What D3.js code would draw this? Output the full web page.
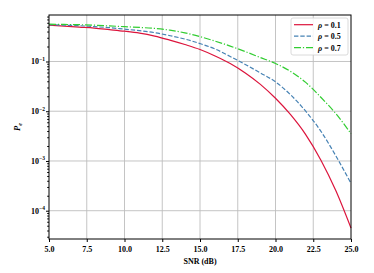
<!DOCTYPE html>
<html>
<head>
<meta charset="utf-8">
<script src="https://cdn.jsdelivr.net/npm/d3@7"></script>
<style>
  body { margin: 0; background: #fff; }
  svg { display: block; font-family: "Liberation Serif", "DejaVu Serif", serif; font-weight: bold; }
</style>
</head>
<body>
<svg width="374" height="273"></svg>
<script>
const snr = [5, 6, 7, 8, 9, 10, 11, 12, 13, 14, 15, 16, 17, 18, 19, 20, 21, 22, 23, 24, 25];

const pe01 = [0.537, 0.513, 0.49, 0.468, 0.437, 0.407, 0.372, 0.324, 0.269, 0.219, 0.174,
  0.129, 0.0912, 0.0589, 0.0347, 0.0182, 0.00851, 0.00339, 0.00105, 0.000251, 0.0000447];
const pe05 = [0.55, 0.537, 0.525, 0.501, 0.479, 0.447, 0.417, 0.38, 0.331, 0.282, 0.229,
  0.178, 0.126, 0.0871, 0.0589, 0.0389, 0.0214, 0.01, 0.00398, 0.00126, 0.000355];
const pe07 = [0.562, 0.556, 0.55, 0.537, 0.519, 0.501, 0.484, 0.462, 0.427, 0.376, 0.316,
  0.257, 0.204, 0.158, 0.12, 0.0912, 0.0631, 0.038, 0.0191, 0.00891, 0.00355];

const xTicks = [5, 7.5, 10, 12.5, 15, 17.5, 20, 22.5, 25];
const yTicks = [1e-1, 1e-2, 1e-3, 1e-4];
const yExps = ["\u22121", "\u22122", "\u22123", "\u22124"];

const series = [
  { label: "0.1", values: pe01, color: "#dc143c", dash: null },
  { label: "0.5", values: pe05, color: "#4682b4", dash: "4.4,1.9" },
  { label: "0.7", values: pe07, color: "#32cd32", dash: "7,1.9,1.2,1.9" }
];

const margin = { left: 49, right: 23, top: 15, bottom: 34 };
const width = 374, height = 273;
const svg = d3.select("svg");

const x = d3.scaleLinear().domain([5, 25]).range([margin.left, width - margin.right]);
const y = d3.scaleLog().domain([2.7e-5, 0.86]).range([height - margin.bottom, margin.top]);

// grid
const grid = svg.append("g").attr("stroke", "#bdbdbd").attr("stroke-width", 0.9);
grid.selectAll(".gx").data(xTicks.slice(1, -1)).join("line")
  .attr("x1", d => x(d)).attr("x2", d => x(d))
  .attr("y1", margin.top).attr("y2", height - margin.bottom);
grid.selectAll(".gy").data(yTicks).join("line")
  .attr("y1", d => y(d)).attr("y2", d => y(d))
  .attr("x1", margin.left).attr("x2", width - margin.right);

// lines
const line = d3.line()
  .x((d, i) => x(snr[i]))
  .y(d => y(d))
  .curve(d3.curveMonotoneX);

series.forEach(s => {
  svg.append("path")
    .datum(s.values)
    .attr("d", line)
    .attr("fill", "none")
    .attr("stroke", s.color)
    .attr("stroke-width", 1.2)
    .attr("stroke-dasharray", s.dash);
});

// axes
const xAxis = svg.append("g")
  .attr("transform", `translate(0,${height - margin.bottom})`)
  .call(d3.axisBottom(x).tickValues(xTicks).tickFormat(d3.format(".1f")).tickSizeOuter(0).tickSize(3));
xAxis.select(".domain").remove();
xAxis.selectAll("text").attr("font-size", 8).attr("font-family", "Liberation Serif").attr("fill", "#000").attr("dy", "0.9em");

const minor = [];
for (let e = -5; e <= 0; e++) {
  for (let m = 2; m <= 9; m++) {
    const v = m * Math.pow(10, e);
    if (v >= y.domain()[0] && v <= y.domain()[1]) minor.push(v);
  }
}
const yMinor = svg.append("g").attr("transform", `translate(${margin.left},0)`)
  .call(d3.axisLeft(y).tickValues(minor).tickFormat("").tickSize(1.8).tickSizeOuter(0));
yMinor.select(".domain").remove();

const yAxis = svg.append("g").attr("transform", `translate(${margin.left},0)`)
  .call(d3.axisLeft(y).tickValues(yTicks).tickFormat("").tickSize(3).tickSizeOuter(0));
yAxis.select(".domain").remove();

const yLab = svg.append("g").selectAll("text").data(yTicks).join("text")
  .attr("x", margin.left - 4)
  .attr("y", d => y(d) + 3)
  .attr("text-anchor", "end")
  .attr("font-size", 8);
yLab.append("tspan").text("10");
yLab.append("tspan").text((d, i) => yExps[i]).attr("font-size", 5.5).attr("dy", -3.5);

// frame
svg.append("rect")
  .attr("x", margin.left).attr("y", margin.top)
  .attr("width", width - margin.left - margin.right)
  .attr("height", height - margin.top - margin.bottom)
  .attr("fill", "none").attr("stroke", "#000").attr("stroke-width", 1);

// axis labels
svg.append("text")
  .attr("x", (margin.left + width - margin.right) / 2)
  .attr("y", 264)
  .attr("text-anchor", "middle")
  .attr("font-size", 8)
  .text("SNR (dB)");

const yl = svg.append("text")
  .attr("transform", `translate(20,${(margin.top + height - margin.bottom) / 2}) rotate(-90)`)
  .attr("text-anchor", "middle")
  .attr("font-size", 8.5)
  .attr("font-style", "italic");
yl.append("tspan").text("P");
yl.append("tspan").text("e").attr("font-size", 6).attr("dy", 2);

// legend
const legend = svg.append("g");
legend.append("rect")
  .attr("x", 291).attr("y", 18).attr("width", 57).attr("height", 37)
  .attr("rx", 2).attr("fill", "#fff").attr("fill-opacity", 0.85)
  .attr("stroke", "#d0d0d0").attr("stroke-width", 0.8);
series.forEach((s, i) => {
  const ly = 24.7 + i * 11.5;
  legend.append("line")
    .attr("x1", 294).attr("x2", 313).attr("y1", ly).attr("y2", ly)
    .attr("stroke", s.color).attr("stroke-width", 1.2)
    .attr("stroke-dasharray", s.dash);
  const t = legend.append("text").attr("x", 318).attr("y", ly + 3).attr("font-size", 8);
  t.append("tspan").text("\u03c1").attr("font-style", "italic");
  t.append("tspan").text(" = " + s.label);
});
</script>
</body>
</html>
